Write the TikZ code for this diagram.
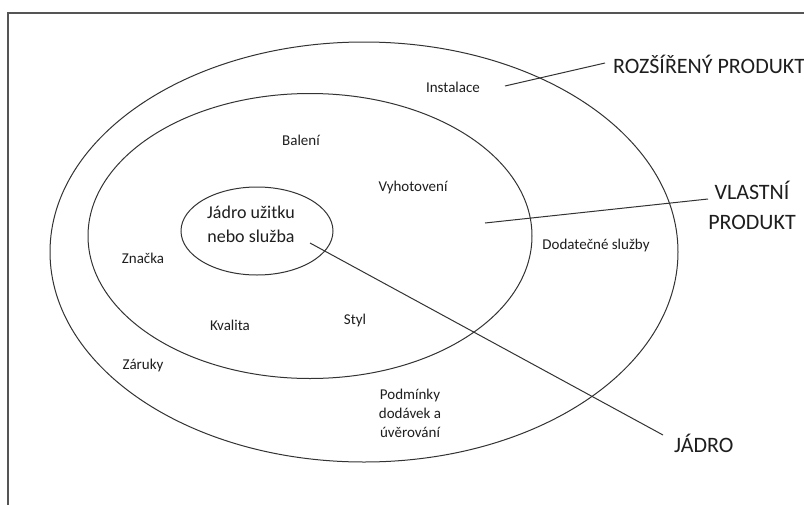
\documentclass[tikz,border=0pt]{standalone}
\usepackage{fontspec}
\setmainfont{Carlito}
\usetikzlibrary{shapes.geometric}
\definecolor{ink}{HTML}{1E1E1E}
\definecolor{rule}{HTML}{333333}
\definecolor{framec}{HTML}{555555}
\tikzset{
  ring/.style={draw=rule, line width=1pt, ellipse, inner sep=0pt},
  small/.style={text=ink, inner sep=0pt, font=\fontsize{15}{19}\selectfont, align=center},
  mid/.style={text=ink, inner sep=0pt, font=\fontsize{18}{24}\selectfont, align=center},
  big/.style={text=ink, inner sep=0pt, font=\fontsize{22}{30}\selectfont, align=center},
  leader/.style={draw=rule, line width=1pt}
}
\begin{document}
\begin{tikzpicture}[x=1pt, y=-1pt]
  \useasboundingbox (0,0) rectangle (804,504);
  \clip (0,0) rectangle (804,504);
  \fill[white] (0,0) rectangle (804,504);
  % outer frame, running off the right and bottom
  \draw[framec, line width=1.2pt] (8,13) rectangle (830,530);

  % the three product layers
  \node[ring, minimum width=628pt, minimum height=420pt] (outer) at (364,252) {};
  \node[ring, minimum width=444pt, minimum height=285pt] (inner) at (310,236) {};
  \node[ring, minimum width=152pt, minimum height=88pt] (core) at (257,231) {};

  \node[mid] (coretext) at (251,224) {Jádro užitku\\nebo služba};

  % layer contents
  \node[small] (instalace) at (453,87) {Instalace};
  \node[small] (baleni) at (301,140) {Balení};
  \node[small] (vyhotoveni) at (413,187) {Vyhotovení};
  \node[small] (dodatecne) at (596,245) {Dodatečné služby};
  \node[small] (znacka) at (143,258) {Značka};
  \node[small] (kvalita) at (230,325) {Kvalita};
  \node[small] (styl) at (355,320) {Styl};
  \node[small] (zaruky) at (143,365) {Záruky};
  \node[small] (podminky) at (410,413) {Podmínky\\dodávek a\\úvěrování};

  % layer titles
  \node[big, anchor=west] (rozsireny) at (613,64) {ROZŠÍŘENÝ PRODUKT};
  \node[big] (vlastni) at (752,205) {VLASTNÍ\\PRODUKT};
  \node[big, anchor=west] (jadro) at (674,443) {JÁDRO};

  % leader lines
  \coordinate (rStart) at (505,86);
  \coordinate (rEnd) at (605,63);
  \coordinate (vStart) at (485,223);
  \coordinate (vEnd) at (708,199);
  \coordinate (jStart) at (310,243);
  \coordinate (jEnd) at (663,435);
  \draw[leader] (rStart) -- (rEnd);
  \draw[leader] (vStart) -- (vEnd);
  \draw[leader] (jStart) -- (jEnd);
\end{tikzpicture}
\end{document}
